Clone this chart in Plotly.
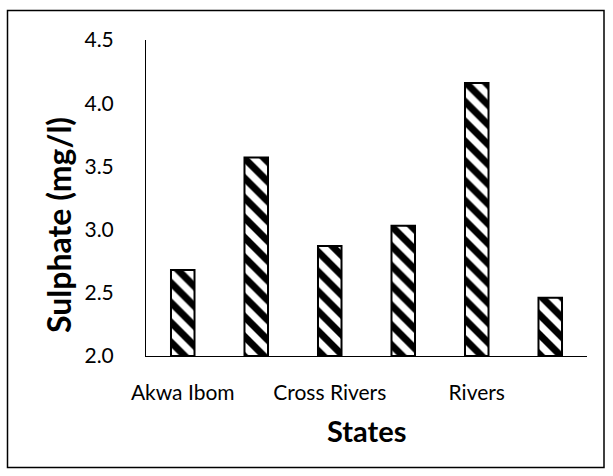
import plotly.graph_objects as go

# Sulphate concentration by sampling point (mg/l)
positions = [0, 1, 2, 3, 4, 5]
sulphate = [2.68, 3.57, 2.87, 3.03, 4.16, 2.46]
tick_positions = [0, 2, 4]
tick_labels = ["Akwa Ibom", "Cross Rivers", "Rivers"]
y_ticks = [2.0, 2.5, 3.0, 3.5, 4.0, 4.5]

W, H = 613, 476
L, R, T, B = 146, 26, 40, 120
pw, ph = W - L - R, H - T - B

FONT = "Lato"

fig = go.Figure(
    go.Bar(
        x=positions,
        y=[v - 2.0 for v in sulphate],
        base=2.0,
        width=0.32,
        marker=dict(
            color="white",
            line=dict(color="black", width=2),
            pattern=dict(shape="\\", fgcolor="black", bgcolor="white",
                         fgopacity=1, fillmode="replace",
                         size=14, solidity=0.5),
        ),
        hovertext=[f"{v:.2f}" for v in sulphate],
    )
)

fig.update_layout(
    width=W, height=H,
    margin=dict(l=L, r=R, t=T, b=B),
    paper_bgcolor="white", plot_bgcolor="white",
    showlegend=False,
    font=dict(family=FONT, size=21, color="black"),
    xaxis=dict(
        range=[-0.5, 5.5],
        tickvals=tick_positions, ticktext=tick_labels,
        tickfont=dict(size=21),
        showline=True, linecolor="black", linewidth=1,
        showgrid=False, zeroline=False, ticks="",
        ticklabelstandoff=18,
    ),
    yaxis=dict(
        range=[2.0, 4.5],
        tickvals=y_ticks, ticktext=[f"{t:.1f}" for t in y_ticks],
        tickfont=dict(size=21),
        showline=True, linecolor="black", linewidth=1,
        showgrid=False, zeroline=False, ticks="",
        ticklabelstandoff=27,
    ),
    annotations=[
        dict(text="<b>Sulphate (mg/l)</b>", textangle=-90,
             xref="paper", yref="paper",
             x=(58 - L) / pw, y=(H - B - 225) / ph,
             xanchor="center", yanchor="middle",
             showarrow=False, font=dict(size=32, family=FONT)),
        dict(text="<b>States</b>",
             xref="paper", yref="paper",
             x=0.5, y=(H - B - 430) / ph,
             xanchor="center", yanchor="middle",
             showarrow=False, font=dict(size=29, family=FONT)),
    ],
    shapes=[
        dict(type="rect", xref="paper", yref="paper",
             x0=(7.5 - L) / pw, x1=(604 - L) / pw,
             y0=(H - B - 467.5) / ph, y1=(H - B - 10.5) / ph,
             line=dict(color="black", width=1.5), fillcolor="rgba(0,0,0,0)",
             layer="below"),
    ],
)

fig.write_html("out.html")
